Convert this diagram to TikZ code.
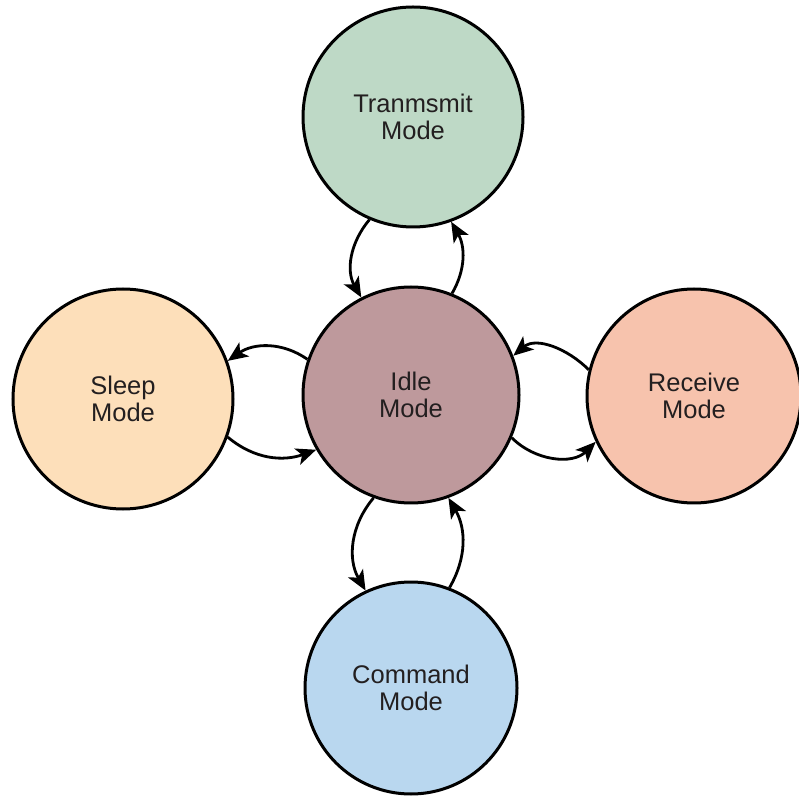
\documentclass[tikz,border=0pt]{standalone}
\usepackage{fontspec}
\setmainfont{Liberation Sans}
\usetikzlibrary{arrows.meta}
\definecolor{cTrans}{RGB}{190,217,198}
\definecolor{cSleep}{RGB}{253,223,186}
\definecolor{cIdle}{RGB}{190,153,156}
\definecolor{cRecv}{RGB}{247,195,173}
\definecolor{cCmd}{RGB}{185,215,239}
\definecolor{textgray}{RGB}{35,31,32}
\begin{document}
\begin{tikzpicture}[x=1pt,y=1pt,
  state/.style={circle, draw=black, line width=3pt, inner sep=0pt, align=center,
    font=\fontsize{25.5}{27}\selectfont, text=textgray},
  link/.style={line width=2.8pt, -{Stealth[length=20pt,width=17pt,inset=5pt]}}]
\useasboundingbox (0,0) rectangle (799,795);
\node[state, fill=cTrans, minimum size=220pt] (T) at (413,678) {Tranmsmit\\Mode};
\node[state, fill=cIdle,  minimum size=216pt] (I) at (411,400) {Idle\\Mode};
\node[state, fill=cSleep, minimum size=220pt] (S) at (123,396) {Sleep\\Mode};
\node[state, fill=cRecv,  minimum size=214pt] (R) at (694,399) {Receive\\Mode};
\node[state, fill=cCmd,   minimum size=212pt] (C) at (411,107) {Command\\Mode};
% top pair
\draw[link] (T.247) to[out=230, in=120] (I.117);
\draw[link] (I.68) to[out=60, in=-60] (T.290);
% left pair
\draw[link] (I.161) to[out=145, in=35] (S.20);
\draw[link] (S.340) to[out=-40, in=200] (I.210);
% right pair
\draw[link] (R.166) to[out=135, in=40] (I.21);
\draw[link] (I.337) to[out=-45, in=225] (R.205);
% bottom pair
\draw[link] (I.250) to[out=230, in=120] (C.115);
\draw[link] (C.69) to[out=60, in=-60] (I.290);
\end{tikzpicture}
\end{document}
